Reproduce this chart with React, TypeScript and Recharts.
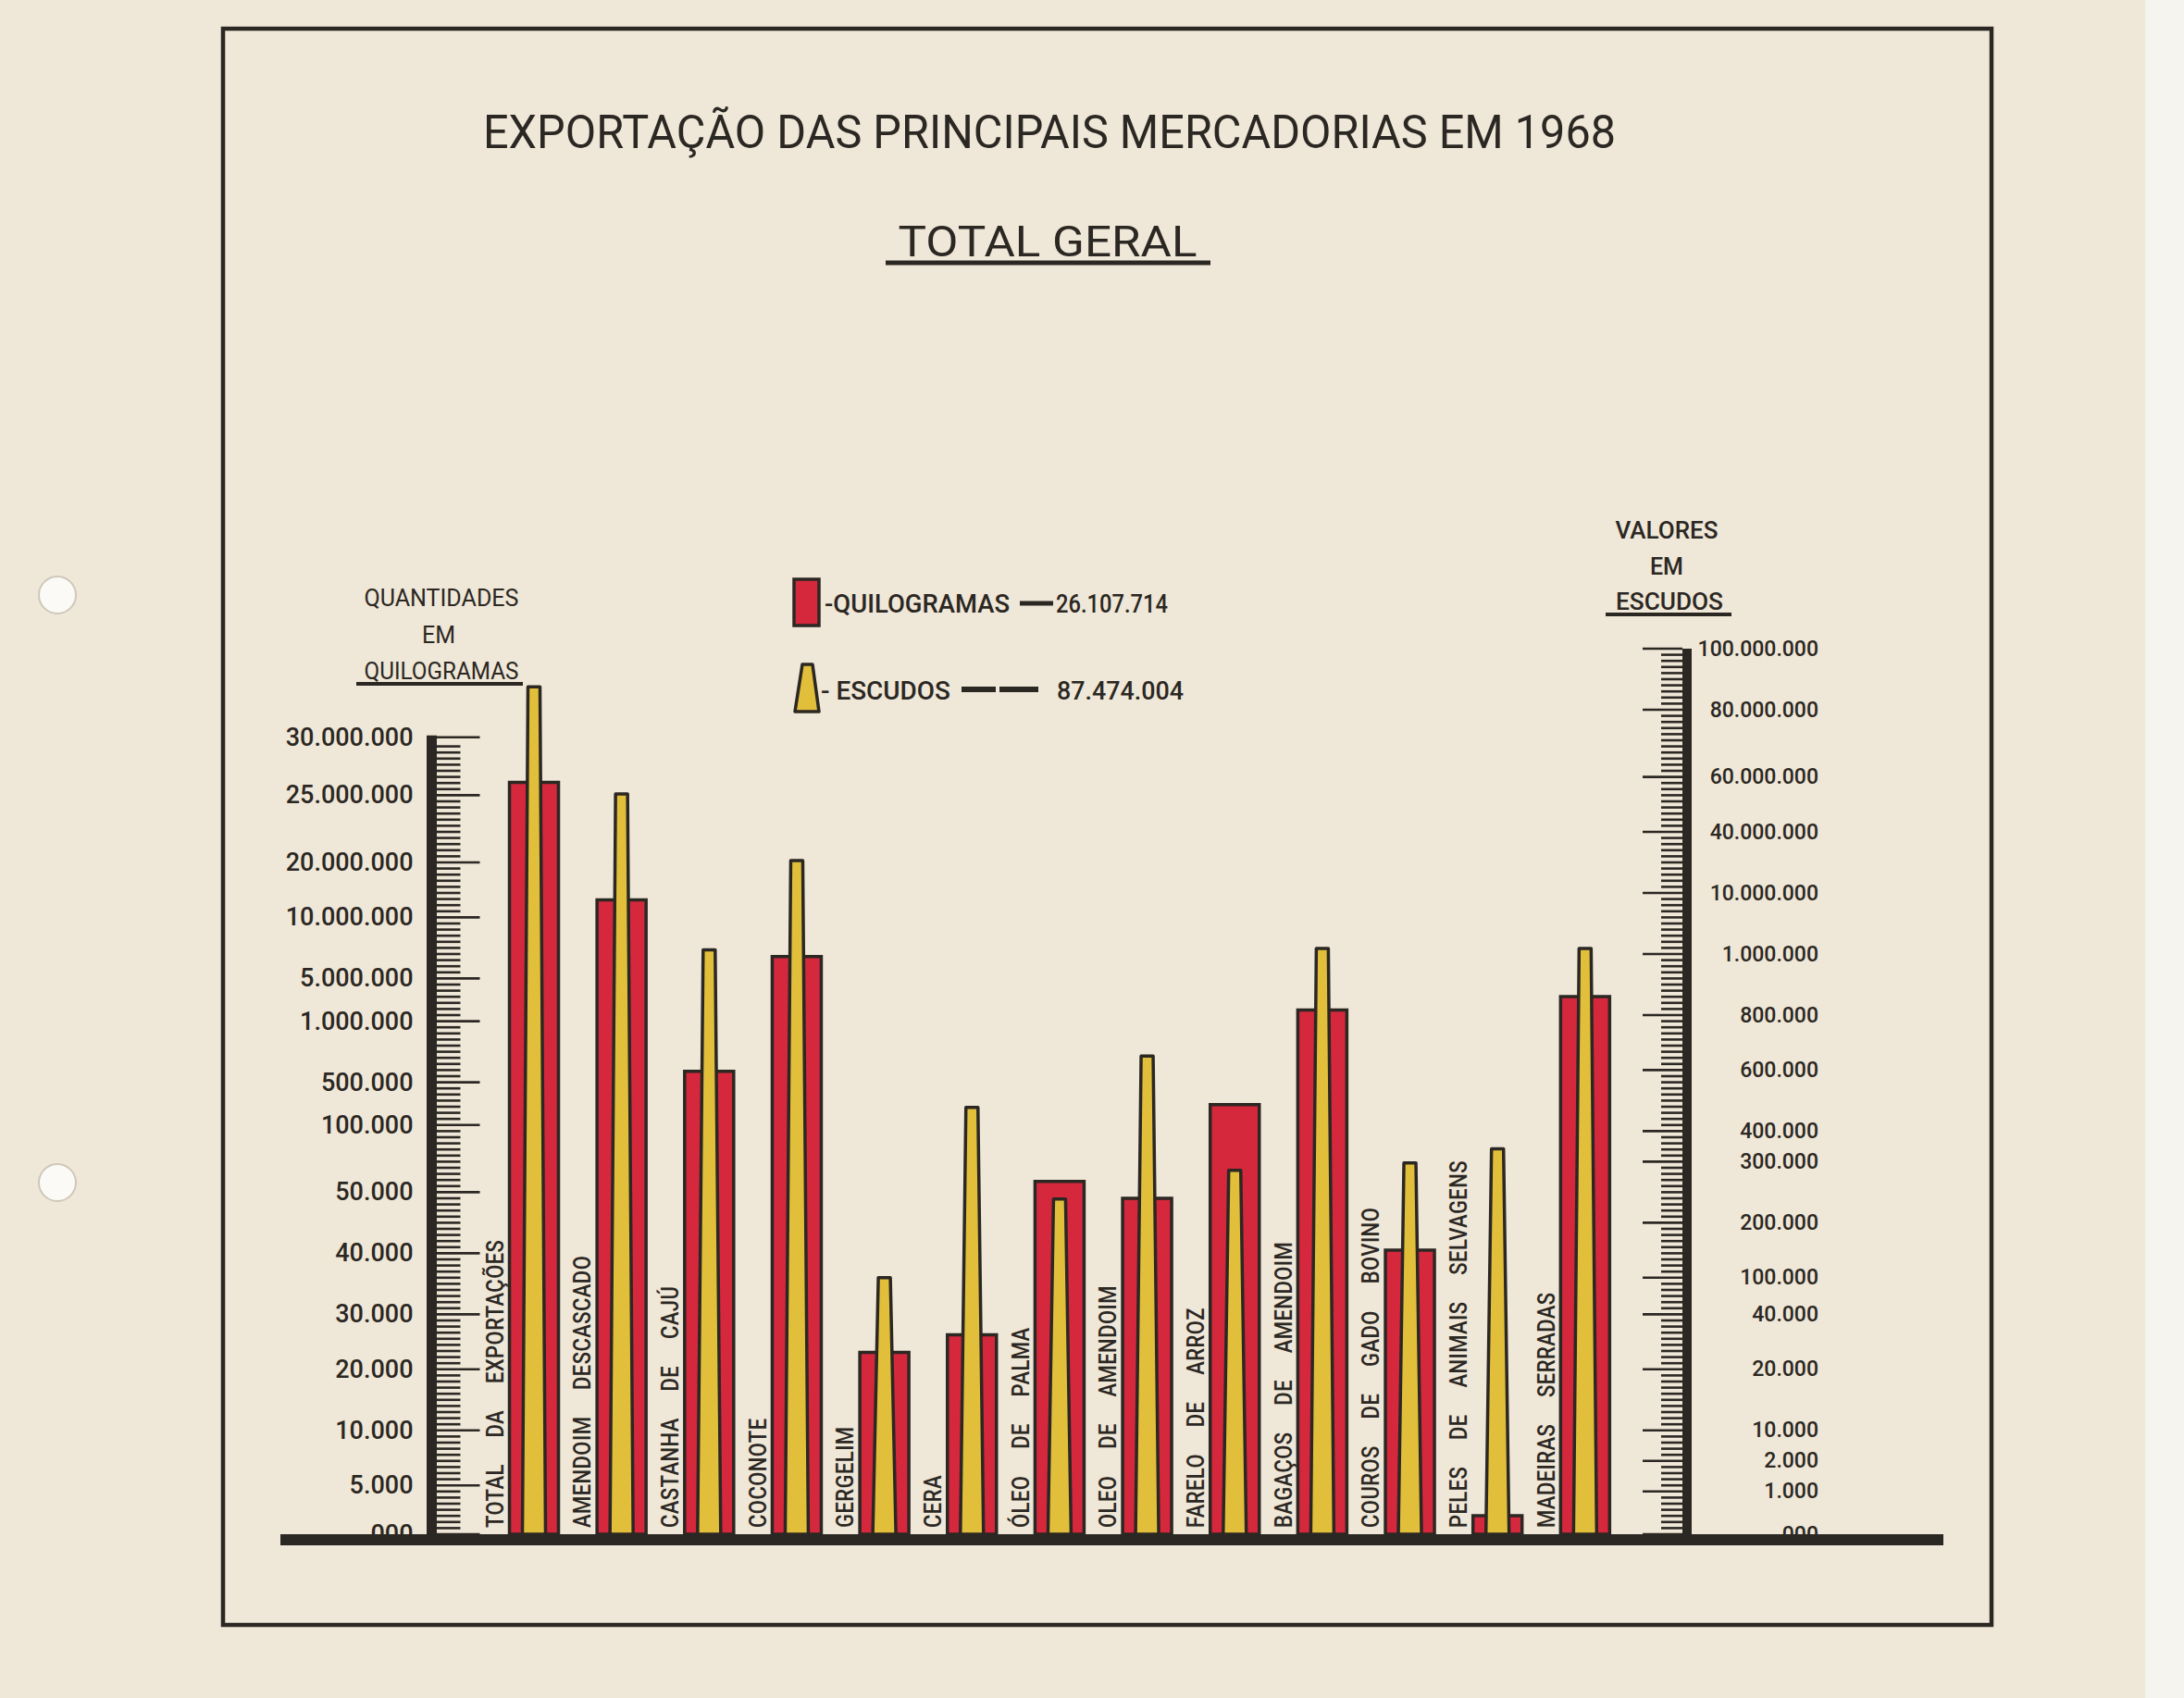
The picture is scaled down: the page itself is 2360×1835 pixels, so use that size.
import React from 'react';
import { ComposedChart, Bar, XAxis, YAxis, Legend } from 'recharts';

const PRODUCTS = [
  'TOTAL DA EXPORTAÇÕES',
  'AMENDOIM DESCASCADO',
  'CASTANHA DE CAJÚ',
  'COCONOTE',
  'GERGELIM',
  'CERA',
  'ÓLEO DE PALMA',
  'OLEO DE AMENDOIM',
  'FARELO DE ARROZ',
  'BAGAÇOS DE AMENDOIM',
  'COUROS DE GADO BOVINO',
  'PELES DE ANIMAIS SELVAGENS',
  'MADEIRAS SERRADAS',
];

// quantities in kg (first entry is the printed total)
const QUILOGRAMAS = [
  26107714, 13200000, 590000, 6800000, 23100, 26300, 58000, 49000, 290000, 2050000, 40500, 1900, 3300000,
];

// values in escudos (first entry is the printed total)
const ESCUDOS = [
  87474004, 53800000, 1630000, 25900000, 100000, 478000, 239000, 651000, 286000, 1810000, 298000, 342000, 1810000,
];

// the two hand-drawn rulers: printed labels and the ruler division each one sits on
const KG_TICKS = [0, 5000, 10000, 20000, 30000, 40000, 50000, 100000, 500000, 1000000, 5000000, 10000000, 20000000, 25000000, 30000000];
const KG_DIVS = [0, 8, 17, 27, 36, 46, 56, 67, 74, 84, 91, 101, 110, 121, 130.5];
const ESC_TICKS = [0, 1000, 2000, 10000, 20000, 40000, 100000, 200000, 300000, 400000, 600000, 800000, 1000000, 10000000, 40000000, 60000000, 80000000, 100000000];
const ESC_DIVS = [0, 7, 12, 17, 27, 36, 42, 51, 61, 66, 76, 85, 95, 105, 115, 124, 135, 145];

const W = 2360;
const H = 1835;
const PLOT_LEFT = 466.5;
const PLOT_RIGHT = 1823;
const PLOT_TOP = 701;
const PLOT_BOTTOM = 1658;
const RULER_MAX = 145;
const DIV_PX = (PLOT_BOTTOM - PLOT_TOP) / RULER_MAX;
const AXIS_W = 200;

const PAPER = '#efe7d7';
const INK = '#2b2723';
const RED = '#d5283d';
const YELLOW = '#e2bf3b';
const FONT = 'Roboto, "Open Sans", sans-serif';

// piecewise position on the ruler, between the two printed labels around the value
const toDivs = (v: number, ticks: number[], divs: number[]) => {
  for (let i = 0; i < ticks.length - 1; i++) {
    if (v <= ticks[i + 1]) {
      const t = (v - ticks[i]) / (ticks[i + 1] - ticks[i]);
      return divs[i] + t * (divs[i + 1] - divs[i]);
    }
  }
  return divs[divs.length - 1];
};

const fmt = (v: number) => (v === 0 ? '000' : String(v).replace(/\B(?=(\d{3})+(?!\d))/g, '.'));

const rows = PRODUCTS.map((name, i) => ({
  name,
  kg: toDivs(QUILOGRAMAS[i], KG_TICKS, KG_DIVS),
  esc: toDivs(ESCUDOS[i], ESC_TICKS, ESC_DIVS),
}));

const range = (n: number) => Array.from({ length: n + 1 }, (_, i) => i);
const kgRulerTicks = [
  ...range(Math.floor(KG_DIVS[KG_DIVS.length - 1])).filter(
    (d) => KG_DIVS.includes(d) || KG_DIVS.every((m) => Math.abs(m - d) > 0.6)
  ),
  ...KG_DIVS.filter((d) => !Number.isInteger(d)),
];
const escRulerTicks = range(RULER_MAX);

const KG_MARGIN = 20;

const KgTick = (props: any) => {
  const { x, y, payload } = props;
  const i = KG_DIVS.indexOf(payload.value);
  const ax = x + KG_MARGIN;
  return (
    <g>
      <line x1={ax + 5} x2={ax + (i >= 0 ? 52 : 31)} y1={y} y2={y} stroke={INK} strokeWidth={2.6} />
      {i >= 0 && (
        <text x={x} y={y} textAnchor="end" dominantBaseline="central" fontSize={27} fontWeight={500} fill={INK} fontFamily={FONT}>
          {fmt(KG_TICKS[i])}
        </text>
      )}
    </g>
  );
};

const EscTick = (props: any) => {
  const { x, y, payload } = props;
  const i = ESC_DIVS.indexOf(payload.value);
  return (
    <g>
      <line x1={x - 5} x2={x - (i >= 0 ? 48 : 28)} y1={y} y2={y} stroke={INK} strokeWidth={2.6} />
      {i >= 0 && (
        <text x={x + 142} y={y} textAnchor="end" dominantBaseline="central" fontSize={23} fontWeight={500} fill={INK} fontFamily={FONT}>
          {fmt(ESC_TICKS[i])}
        </text>
      )}
    </g>
  );
};

const ProductTick = (props: any) => {
  const { x, y, payload } = props;
  return (
    <text
      transform={`translate(${x - 33}, ${y - 7}) rotate(-90) scale(0.88, 1)`}
      fontSize={25}
      fontWeight={500}
      letterSpacing={0.5}
      wordSpacing={26}
      fill={INK}
      fontFamily={FONT}
    >
      {payload.value}
    </text>
  );
};

const Trapezoid = (props: any) => {
  const { x, y, width, height, fill } = props;
  if (!height) return null;
  const cx = x + width / 2;
  const b = y + height;
  return (
    <path
      d={`M${cx - 12.5},${b} L${cx - 6.5},${y} L${cx + 6.5},${y} L${cx + 12.5},${b} Z`}
      fill={fill}
      stroke={INK}
      strokeWidth={3.5}
      strokeLinejoin="round"
    />
  );
};

const LegendBox = (props: any) => {
  const items = props.payload || [];
  const kg = items.find((p: any) => p.dataKey === 'kg');
  const esc = items.find((p: any) => p.dataKey === 'esc');
  const txt = { fontFamily: FONT, fill: INK } as const;
  return (
    <svg width={460} height={180}>
      {kg && (
        <g>
          <rect x={9} y={17} width={27} height={50} fill={kg.color} stroke={INK} strokeWidth={3.5} />
          <text x={42} y={53} fontSize={28} fontWeight={500} textLength={200} lengthAdjust="spacingAndGlyphs" {...txt}>
            {'-' + kg.value}
          </text>
          <line x1={253} x2={289} y1={43} y2={43} stroke={INK} strokeWidth={5} />
          <text x={292} y={53} fontSize={27} fontWeight={500} textLength={121} lengthAdjust="spacingAndGlyphs" {...txt}>
            {fmt(QUILOGRAMAS[0])}
          </text>
        </g>
      )}
      {esc && (
        <g>
          <path d="M10,160 L18,109 L29,109 L36,160 Z" fill={esc.color} stroke={INK} strokeWidth={3.5} strokeLinejoin="round" />
          <text x={38} y={147} fontSize={28} fontWeight={500} textLength={140} lengthAdjust="spacingAndGlyphs" {...txt}>
            {'- ' + esc.value}
          </text>
          <line x1={190} x2={227} y1={136} y2={136} stroke={INK} strokeWidth={6} />
          <line x1={231} x2={273} y1={136} y2={136} stroke={INK} strokeWidth={6} />
          <text x={293} y={147} fontSize={27} fontWeight={500} textLength={137} lengthAdjust="spacingAndGlyphs" {...txt}>
            {fmt(ESCUDOS[0])}
          </text>
        </g>
      )}
    </svg>
  );
};

export default function App() {
  const t = { fontFamily: FONT, fill: INK, textAnchor: 'middle' as const };
  return (
    <div style={{ position: 'absolute', left: 0, top: 0, width: W, height: H, background: PAPER, overflow: 'hidden' }}>
      <ComposedChart
        width={W}
        height={H}
        data={rows}
        margin={{ top: PLOT_TOP, bottom: H - PLOT_BOTTOM - 30, left: PLOT_LEFT - AXIS_W, right: W - PLOT_RIGHT - AXIS_W }}
        barSize={53}
        barGap={-53}
      >
        <XAxis
          dataKey="name"
          height={30}
          padding={{ left: 63, right: 63 }}
          axisLine={false}
          tickLine={false}
          tickSize={0}
          tickMargin={0}
          interval={0}
          tick={(p: any) => <ProductTick {...p} />}
        />
        <YAxis
          yAxisId="kg"
          type="number"
          width={AXIS_W}
          domain={[0, RULER_MAX]}
          ticks={kgRulerTicks}
          interval={0}
          tickSize={0}
          tickMargin={KG_MARGIN}
          tickLine={false}
          axisLine={{
            stroke: INK,
            strokeWidth: 11,
            strokeDasharray: `0 ${(RULER_MAX - KG_DIVS[KG_DIVS.length - 1]) * DIV_PX - 2} 2000`,
          }}
          tick={(p: any) => <KgTick {...p} />}
        />
        <YAxis
          yAxisId="esc"
          orientation="right"
          type="number"
          width={AXIS_W}
          domain={[0, RULER_MAX]}
          ticks={escRulerTicks}
          interval={0}
          tickSize={0}
          tickMargin={0}
          tickLine={false}
          axisLine={{ stroke: INK, strokeWidth: 10 }}
          tick={(p: any) => <EscTick {...p} />}
        />
        <Legend
          layout="horizontal"
          verticalAlign="middle"
          align="center"
          content={(p: any) => <LegendBox {...p} />}
          wrapperStyle={{ left: 849, top: 609, width: 460, height: 180 }}
        />
        <Bar yAxisId="kg" dataKey="kg" name="QUILOGRAMAS" fill={RED} stroke={INK} strokeWidth={3.5} isAnimationActive={false} />
        <Bar
          yAxisId="esc"
          dataKey="esc"
          name="ESCUDOS"
          fill={YELLOW}
          stroke={INK}
          shape={(p: any) => <Trapezoid {...p} />}
          isAnimationActive={false}
        />
      </ComposedChart>

      <svg width={W} height={H} style={{ position: 'absolute', left: 0, top: 0, pointerEvents: 'none' }}>
        <rect x={2318} y={0} width={42} height={H} fill="#f6f4ef" />
        <circle cx={62} cy={643} r={20} fill="#fbfaf7" stroke="#cfc7b8" strokeWidth={2} />
        <circle cx={62} cy={1278} r={20} fill="#fbfaf7" stroke="#cfc7b8" strokeWidth={2} />
        <rect x={241} y={31} width={1911} height={1725} fill="none" stroke={INK} strokeWidth={4.5} />

        <text x={1134} y={160} fontSize={50} textLength={1224} lengthAdjust="spacingAndGlyphs" {...t}>
          EXPORTAÇÃO DAS PRINCIPAIS MERCADORIAS EM 1968
        </text>
        <text x={1132} y={277} fontSize={46} textLength={323} lengthAdjust="spacingAndGlyphs" {...t}>
          TOTAL GERAL
        </text>
        <line x1={957} x2={1308} y1={284} y2={284} stroke={INK} strokeWidth={5} />

        <text x={477} y={655} fontSize={25} textLength={167} lengthAdjust="spacingAndGlyphs" {...t}>QUANTIDADES</text>
        <text x={474} y={695} fontSize={25} {...t}>EM</text>
        <text x={477} y={734} fontSize={25} textLength={167} lengthAdjust="spacingAndGlyphs" {...t}>QUILOGRAMAS</text>
        <line x1={385} x2={565} y1={739} y2={739} stroke={INK} strokeWidth={4} />

        <text x={1801} y={582} fontSize={25} fontWeight={500} textLength={111} lengthAdjust="spacingAndGlyphs" {...t}>VALORES</text>
        <text x={1801} y={621} fontSize={25} fontWeight={500} {...t}>EM</text>
        <text x={1804} y={659} fontSize={25} fontWeight={500} textLength={116} lengthAdjust="spacingAndGlyphs" {...t}>ESCUDOS</text>
        <line x1={1735} x2={1871} y1={664} y2={664} stroke={INK} strokeWidth={4} />

        <line x1={303} x2={2100} y1={1664} y2={1664} stroke={INK} strokeWidth={12} />
      </svg>
    </div>
  );
}
